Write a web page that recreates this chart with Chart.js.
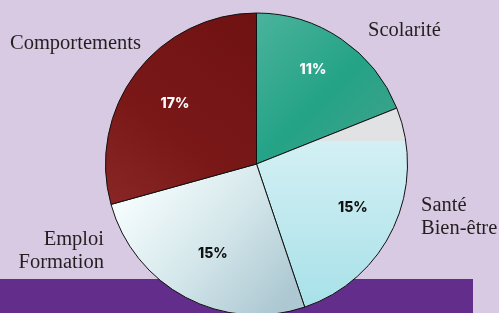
<!DOCTYPE html>
<html>
<head>
<meta charset="utf-8">
<script src="https://cdn.jsdelivr.net/npm/chart.js@4.4.6/dist/chart.umd.min.js"></script>
<style>
  html, body { margin: 0; padding: 0; background: #d9cae3; overflow: hidden; }
  canvas { display: block; }
</style>
</head>
<body>
<canvas id="pie" width="499" height="313"></canvas>
<script>
  const categories = ["Scolarité", ["Santé", "Bien-être"], ["Emploi", "Formation"], "Comportements"];
  const values = [11, 15, 15, 17];

  const canvas = document.getElementById("pie");
  const RADIUS = 151;

  function center(chart) {
    const a = chart.chartArea;
    return { x: (a.left + a.right) / 2, y: (a.top + a.bottom) / 2 };
  }

  function sliceFill(ctx) {
    const chart = ctx.chart;
    if (!chart.chartArea) return "#ccc";
    const c = chart.ctx;
    const { x, y } = center(chart);
    const r = RADIUS;
    let g;
    switch (ctx.dataIndex) {
      case 0:
        g = c.createLinearGradient(x, y - r, x + r, y);
        g.addColorStop(0, "#4bb39c");
        g.addColorStop(0.5, "#24a386");
        g.addColorStop(1, "#46a28c");
        return g;
      case 1:
        // grey strip above the picture, light blue below
        g = c.createLinearGradient(0, y - r, 0, y + r);
        const cut = (r - 23) / (2 * r);
        g.addColorStop(0, "#e1e2e4");
        g.addColorStop(cut, "#e1e2e4");
        g.addColorStop(cut + 0.001, "#d3f0f4");
        g.addColorStop(1, "#a6e0e8");
        return g;
      case 2:
        g = c.createLinearGradient(x - r * 0.8, y + r * 0.2, x + r * 0.1, y + r);
        g.addColorStop(0, "#f3fbfc");
        g.addColorStop(0.5, "#d3e6ea");
        g.addColorStop(1, "#adc8d2");
        return g;
      default:
        g = c.createLinearGradient(x, y - r, x - r, y + r * 0.3);
        g.addColorStop(0, "#701212");
        g.addColorStop(0.6, "#7a1818");
        g.addColorStop(1, "#8a2626");
        return g;
    }
  }

  const backdrop = {
    id: "backdrop",
    beforeDatasetsDraw(chart) {
      const c = chart.ctx;
      c.save();
      c.fillStyle = "#632d8b";
      c.fillRect(0, 279, 473, chart.height - 279);
      c.restore();
    }
  };

  const labels = {
    id: "labels",
    afterDatasetsDraw(chart) {
      const c = chart.ctx;
      const arcs = chart.getDatasetMeta(0).data;
      const pctColors = ["#ffffff", "#111111", "#111111", "#ffffff"];
      const reach = [0.73, 0.7, 0.66, 0.67];
      const turn = [-3.3, -0.6, -2, -1];
      c.save();
      c.textAlign = "center";
      c.textBaseline = "middle";
      c.font = "800 14px Inter";
      arcs.forEach((arc, i) => {
        const p = arc.getProps(["x", "y", "startAngle", "endAngle", "outerRadius"], true);
        const mid = (p.startAngle + p.endAngle) / 2 + turn[i] * Math.PI / 180;
        const d = p.outerRadius * reach[i];
        c.fillStyle = pctColors[i];
        c.fillText(values[i] + "%", p.x + Math.cos(mid) * d, p.y + Math.sin(mid) * d);
      });

      // category names around the pie
      const spots = [
        { x: 368, y: 36, align: "left" },
        { x: 421, y: 211, align: "left" },
        { x: 104, y: 245, align: "right" },
        { x: 10, y: 49, align: "left" }
      ];
      c.font = "20.5px 'Liberation Serif'";
      c.fillStyle = "#231f20";
      c.textBaseline = "alphabetic";
      categories.forEach((cat, i) => {
        const lines = Array.isArray(cat) ? cat : [cat];
        c.textAlign = spots[i].align;
        lines.forEach((line, j) => c.fillText(line, spots[i].x, spots[i].y + j * 22.5));
      });
      c.restore();
    }
  };

  new Chart(canvas, {
    type: "pie",
    data: {
      labels: categories.map(cat => Array.isArray(cat) ? cat.join(" ") : cat),
      datasets: [{
        data: values,
        backgroundColor: sliceFill,
        borderColor: "#111111",
        borderWidth: 1,
        radius: RADIUS
      }]
    },
    options: {
      responsive: false,
      animation: false,
      events: [],
      layout: { padding: { left: 14, right: 0, top: 15, bottom: 0 } },
      plugins: { legend: { display: false }, tooltip: { enabled: false } }
    },
    plugins: [backdrop, labels]
  });
</script>
</body>
</html>
